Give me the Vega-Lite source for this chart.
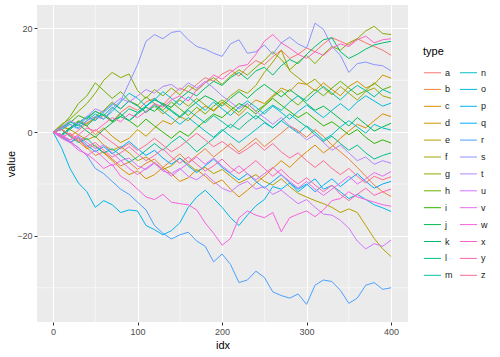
{
"$schema":"https://vega.github.io/schema/vega-lite/v6.json",
"width":371,"height":317,
"autosize":{"type":"none"},
"padding":{"left":37,"top":5,"right":92,"bottom":35},
"background":"white",
"config":{
"view":{"fill":"#EBEBEB","stroke":null},
"font":"Liberation Sans",
"axis":{"gridColor":"#FFFFFF","gridWidth":1.1,"domain":false,"tickColor":"#333333","tickSize":3,"tickWidth":1,"labelColor":"#4D4D4D","labelFontSize":9,"labelPadding":2,"titleFontSize":11,"titleFontWeight":"normal","titleColor":"#000000","titlePadding":3},
"axisY":{"titlePadding":0},
"legend":{"orient":"none","legendX":386,"legendY":41,"columns":2,"symbolType":"stroke","symbolSize":290,"symbolStrokeWidth":1,"labelFontSize":9,"labelColor":"#1A1A1A","labelOffset":3,"titleFontSize":11,"titleFontWeight":"normal","titleColor":"#000000","titlePadding":6,"rowPadding":1.9,"columnPadding":4,"padding":0}
},
"layer":[
{"data":{"values":[{"gx":50},{"gx":150},{"gx":250},{"gx":350}]},
"mark":{"type":"rule","color":"#FFFFFF","strokeWidth":0.55},
"encoding":{"x":{"field":"gx","type":"quantitative","title":"idx","scale":{"domain":[-19,420],"nice":false,"zero":false},"axis":{"values":[0,100,200,300,400]}}}},
{"data":{"values":[{"gy":-30},{"gy":-10},{"gy":10}]},
"mark":{"type":"rule","color":"#FFFFFF","strokeWidth":0.55},
"encoding":{"y":{"field":"gy","type":"quantitative","title":"value","scale":{"domain":[-36.6,24.5],"nice":false,"zero":false},"axis":{"values":[-20,0,20]}}}},
{"data":{"values":[
{"idx":0,"type":"a","value":0},{"idx":10,"type":"a","value":0.5},{"idx":20,"type":"a","value":-0.8},{"idx":30,"type":"a","value":0.3},{"idx":40,"type":"a","value":1.8},{"idx":50,"type":"a","value":2.5},{"idx":60,"type":"a","value":3.2},{"idx":70,"type":"a","value":2.0},{"idx":80,"type":"a","value":3.8},{"idx":90,"type":"a","value":5.0},{"idx":100,"type":"a","value":4.2},{"idx":110,"type":"a","value":5.8},{"idx":120,"type":"a","value":6.5},{"idx":130,"type":"a","value":5.2},{"idx":140,"type":"a","value":7.0},{"idx":150,"type":"a","value":8.5},{"idx":160,"type":"a","value":7.8},{"idx":170,"type":"a","value":9.2},{"idx":180,"type":"a","value":10.5},{"idx":190,"type":"a","value":9.8},{"idx":200,"type":"a","value":11.2},{"idx":210,"type":"a","value":12.0},{"idx":220,"type":"a","value":10.8},{"idx":230,"type":"a","value":12.5},{"idx":240,"type":"a","value":13.8},{"idx":250,"type":"a","value":13.0},{"idx":260,"type":"a","value":14.5},{"idx":270,"type":"a","value":15.8},{"idx":280,"type":"a","value":14.2},{"idx":290,"type":"a","value":15.0},{"idx":300,"type":"a","value":16.2},{"idx":310,"type":"a","value":15.5},{"idx":320,"type":"a","value":17.0},{"idx":330,"type":"a","value":18.2},{"idx":340,"type":"a","value":17.5},{"idx":350,"type":"a","value":16.8},{"idx":360,"type":"a","value":18.0},{"idx":370,"type":"a","value":17.2},{"idx":380,"type":"a","value":16.5},{"idx":390,"type":"a","value":15.8},{"idx":400,"type":"a","value":14.8},
{"idx":0,"type":"b","value":0},{"idx":10,"type":"b","value":-0.8},{"idx":20,"type":"b","value":-2.0},{"idx":30,"type":"b","value":-1.2},{"idx":40,"type":"b","value":-3.0},{"idx":50,"type":"b","value":-4.5},{"idx":60,"type":"b","value":-3.8},{"idx":70,"type":"b","value":-5.2},{"idx":80,"type":"b","value":-6.5},{"idx":90,"type":"b","value":-5.8},{"idx":100,"type":"b","value":-7.2},{"idx":110,"type":"b","value":-6.0},{"idx":120,"type":"b","value":-5.2},{"idx":130,"type":"b","value":-6.8},{"idx":140,"type":"b","value":-5.5},{"idx":150,"type":"b","value":-4.2},{"idx":160,"type":"b","value":-5.8},{"idx":170,"type":"b","value":-4.5},{"idx":180,"type":"b","value":-3.2},{"idx":190,"type":"b","value":-4.8},{"idx":200,"type":"b","value":-3.5},{"idx":210,"type":"b","value":-2.2},{"idx":220,"type":"b","value":-3.8},{"idx":230,"type":"b","value":-2.5},{"idx":240,"type":"b","value":-1.2},{"idx":250,"type":"b","value":-2.8},{"idx":260,"type":"b","value":-1.5},{"idx":270,"type":"b","value":-0.2},{"idx":280,"type":"b","value":1.2},{"idx":290,"type":"b","value":0.3},{"idx":300,"type":"b","value":-1.0},{"idx":310,"type":"b","value":0.5},{"idx":320,"type":"b","value":-0.8},{"idx":330,"type":"b","value":-2.5},{"idx":340,"type":"b","value":-3.8},{"idx":350,"type":"b","value":-5.2},{"idx":360,"type":"b","value":-6.8},{"idx":370,"type":"b","value":-8.5},{"idx":380,"type":"b","value":-10.2},{"idx":390,"type":"b","value":-11.5},{"idx":400,"type":"b","value":-12.4},
{"idx":0,"type":"c","value":0},{"idx":10,"type":"c","value":0.6},{"idx":20,"type":"c","value":-0.5},{"idx":30,"type":"c","value":-1.8},{"idx":40,"type":"c","value":-3.2},{"idx":50,"type":"c","value":-2.5},{"idx":60,"type":"c","value":-4.0},{"idx":70,"type":"c","value":-5.5},{"idx":80,"type":"c","value":-7.0},{"idx":90,"type":"c","value":-8.2},{"idx":100,"type":"c","value":-7.5},{"idx":110,"type":"c","value":-9.0},{"idx":120,"type":"c","value":-8.2},{"idx":130,"type":"c","value":-6.8},{"idx":140,"type":"c","value":-8.0},{"idx":150,"type":"c","value":-9.5},{"idx":160,"type":"c","value":-8.8},{"idx":170,"type":"c","value":-7.2},{"idx":180,"type":"c","value":-8.5},{"idx":190,"type":"c","value":-10.0},{"idx":200,"type":"c","value":-9.2},{"idx":210,"type":"c","value":-11.0},{"idx":220,"type":"c","value":-12.5},{"idx":230,"type":"c","value":-11.2},{"idx":240,"type":"c","value":-9.8},{"idx":250,"type":"c","value":-8.5},{"idx":260,"type":"c","value":-7.0},{"idx":270,"type":"c","value":-5.5},{"idx":280,"type":"c","value":-6.8},{"idx":290,"type":"c","value":-5.2},{"idx":300,"type":"c","value":-3.8},{"idx":310,"type":"c","value":-2.5},{"idx":320,"type":"c","value":-4.0},{"idx":330,"type":"c","value":-2.8},{"idx":340,"type":"c","value":-1.2},{"idx":350,"type":"c","value":0.2},{"idx":360,"type":"c","value":1.5},{"idx":370,"type":"c","value":0.8},{"idx":380,"type":"c","value":2.2},{"idx":390,"type":"c","value":3.5},{"idx":400,"type":"c","value":3.0},
{"idx":0,"type":"d","value":0},{"idx":10,"type":"d","value":1.2},{"idx":20,"type":"d","value":0.5},{"idx":30,"type":"d","value":2.0},{"idx":40,"type":"d","value":1.2},{"idx":50,"type":"d","value":-0.5},{"idx":60,"type":"d","value":0.8},{"idx":70,"type":"d","value":-0.8},{"idx":80,"type":"d","value":-2.0},{"idx":90,"type":"d","value":-1.2},{"idx":100,"type":"d","value":0.5},{"idx":110,"type":"d","value":-0.8},{"idx":120,"type":"d","value":0.8},{"idx":130,"type":"d","value":2.2},{"idx":140,"type":"d","value":1.5},{"idx":150,"type":"d","value":3.0},{"idx":160,"type":"d","value":2.2},{"idx":170,"type":"d","value":3.8},{"idx":180,"type":"d","value":5.0},{"idx":190,"type":"d","value":4.2},{"idx":200,"type":"d","value":5.8},{"idx":210,"type":"d","value":4.5},{"idx":220,"type":"d","value":3.2},{"idx":230,"type":"d","value":4.8},{"idx":240,"type":"d","value":6.2},{"idx":250,"type":"d","value":5.5},{"idx":260,"type":"d","value":7.0},{"idx":270,"type":"d","value":8.5},{"idx":280,"type":"d","value":7.8},{"idx":290,"type":"d","value":9.5},{"idx":300,"type":"d","value":9.2},{"idx":310,"type":"d","value":8.0},{"idx":320,"type":"d","value":9.5},{"idx":330,"type":"d","value":8.2},{"idx":340,"type":"d","value":7.0},{"idx":350,"type":"d","value":8.8},{"idx":360,"type":"d","value":9.8},{"idx":370,"type":"d","value":8.5},{"idx":380,"type":"d","value":9.2},{"idx":390,"type":"d","value":11.0},{"idx":400,"type":"d","value":10.4},
{"idx":0,"type":"e","value":0},{"idx":10,"type":"e","value":1.0},{"idx":20,"type":"e","value":0.5},{"idx":30,"type":"e","value":-0.5},{"idx":40,"type":"e","value":-1.5},{"idx":50,"type":"e","value":-0.8},{"idx":60,"type":"e","value":-2.5},{"idx":70,"type":"e","value":-3.5},{"idx":80,"type":"e","value":-2.8},{"idx":90,"type":"e","value":-4.0},{"idx":100,"type":"e","value":-5.5},{"idx":110,"type":"e","value":-4.8},{"idx":120,"type":"e","value":-6.0},{"idx":130,"type":"e","value":-7.2},{"idx":140,"type":"e","value":-6.5},{"idx":150,"type":"e","value":-5.0},{"idx":160,"type":"e","value":-6.2},{"idx":170,"type":"e","value":-7.5},{"idx":180,"type":"e","value":-6.8},{"idx":190,"type":"e","value":-8.0},{"idx":200,"type":"e","value":-7.2},{"idx":210,"type":"e","value":-8.5},{"idx":220,"type":"e","value":-9.8},{"idx":230,"type":"e","value":-9.0},{"idx":240,"type":"e","value":-8.2},{"idx":250,"type":"e","value":-9.5},{"idx":260,"type":"e","value":-10.2},{"idx":270,"type":"e","value":-9.0},{"idx":280,"type":"e","value":-10.5},{"idx":290,"type":"e","value":-11.8},{"idx":300,"type":"e","value":-12.5},{"idx":310,"type":"e","value":-13.2},{"idx":320,"type":"e","value":-13.8},{"idx":330,"type":"e","value":-14.5},{"idx":340,"type":"e","value":-15.5},{"idx":350,"type":"e","value":-14.8},{"idx":360,"type":"e","value":-15.5},{"idx":370,"type":"e","value":-18.0},{"idx":380,"type":"e","value":-20.5},{"idx":390,"type":"e","value":-22.5},{"idx":400,"type":"e","value":-24.0},
{"idx":0,"type":"f","value":0},{"idx":10,"type":"f","value":-0.5},{"idx":20,"type":"f","value":0.8},{"idx":30,"type":"f","value":2.2},{"idx":40,"type":"f","value":1.5},{"idx":50,"type":"f","value":3.0},{"idx":60,"type":"f","value":4.2},{"idx":70,"type":"f","value":5.8},{"idx":80,"type":"f","value":4.5},{"idx":90,"type":"f","value":6.0},{"idx":100,"type":"f","value":5.2},{"idx":110,"type":"f","value":3.8},{"idx":120,"type":"f","value":5.0},{"idx":130,"type":"f","value":3.5},{"idx":140,"type":"f","value":4.8},{"idx":150,"type":"f","value":6.2},{"idx":160,"type":"f","value":5.0},{"idx":170,"type":"f","value":6.5},{"idx":180,"type":"f","value":5.2},{"idx":190,"type":"f","value":4.0},{"idx":200,"type":"f","value":5.5},{"idx":210,"type":"f","value":7.0},{"idx":220,"type":"f","value":8.2},{"idx":230,"type":"f","value":7.5},{"idx":240,"type":"f","value":9.0},{"idx":250,"type":"f","value":11.5},{"idx":260,"type":"f","value":13.5},{"idx":270,"type":"f","value":15.8},{"idx":280,"type":"f","value":11.8},{"idx":290,"type":"f","value":10.5},{"idx":300,"type":"f","value":9.2},{"idx":310,"type":"f","value":10.2},{"idx":320,"type":"f","value":8.5},{"idx":330,"type":"f","value":7.2},{"idx":340,"type":"f","value":8.8},{"idx":350,"type":"f","value":7.5},{"idx":360,"type":"f","value":6.2},{"idx":370,"type":"f","value":7.8},{"idx":380,"type":"f","value":8.5},{"idx":390,"type":"f","value":7.0},{"idx":400,"type":"f","value":6.5},
{"idx":0,"type":"g","value":0},{"idx":10,"type":"g","value":1.5},{"idx":20,"type":"g","value":2.5},{"idx":30,"type":"g","value":4.0},{"idx":40,"type":"g","value":5.5},{"idx":50,"type":"g","value":7.5},{"idx":60,"type":"g","value":10.0},{"idx":70,"type":"g","value":11.5},{"idx":80,"type":"g","value":10.5},{"idx":90,"type":"g","value":11.2},{"idx":100,"type":"g","value":8.0},{"idx":110,"type":"g","value":6.5},{"idx":120,"type":"g","value":8.2},{"idx":130,"type":"g","value":7.0},{"idx":140,"type":"g","value":8.5},{"idx":150,"type":"g","value":7.2},{"idx":160,"type":"g","value":9.0},{"idx":170,"type":"g","value":8.0},{"idx":180,"type":"g","value":9.5},{"idx":190,"type":"g","value":10.5},{"idx":200,"type":"g","value":9.2},{"idx":210,"type":"g","value":10.8},{"idx":220,"type":"g","value":12.0},{"idx":230,"type":"g","value":11.0},{"idx":240,"type":"g","value":12.5},{"idx":250,"type":"g","value":13.8},{"idx":260,"type":"g","value":15.5},{"idx":270,"type":"g","value":14.0},{"idx":280,"type":"g","value":12.0},{"idx":290,"type":"g","value":13.5},{"idx":300,"type":"g","value":14.8},{"idx":310,"type":"g","value":13.2},{"idx":320,"type":"g","value":15.0},{"idx":330,"type":"g","value":16.5},{"idx":340,"type":"g","value":15.8},{"idx":350,"type":"g","value":17.2},{"idx":360,"type":"g","value":18.0},{"idx":370,"type":"g","value":19.5},{"idx":380,"type":"g","value":20.4},{"idx":390,"type":"g","value":19.0},{"idx":400,"type":"g","value":18.8},
{"idx":0,"type":"h","value":0},{"idx":10,"type":"h","value":1.2},{"idx":20,"type":"h","value":3.0},{"idx":30,"type":"h","value":5.5},{"idx":40,"type":"h","value":7.0},{"idx":50,"type":"h","value":9.5},{"idx":60,"type":"h","value":8.0},{"idx":70,"type":"h","value":6.5},{"idx":80,"type":"h","value":7.8},{"idx":90,"type":"h","value":6.0},{"idx":100,"type":"h","value":5.2},{"idx":110,"type":"h","value":6.8},{"idx":120,"type":"h","value":5.5},{"idx":130,"type":"h","value":4.2},{"idx":140,"type":"h","value":5.8},{"idx":150,"type":"h","value":4.5},{"idx":160,"type":"h","value":3.2},{"idx":170,"type":"h","value":4.8},{"idx":180,"type":"h","value":3.5},{"idx":190,"type":"h","value":5.0},{"idx":200,"type":"h","value":6.2},{"idx":210,"type":"h","value":5.0},{"idx":220,"type":"h","value":3.8},{"idx":230,"type":"h","value":5.5},{"idx":240,"type":"h","value":4.0},{"idx":250,"type":"h","value":5.2},{"idx":260,"type":"h","value":6.8},{"idx":270,"type":"h","value":8.0},{"idx":280,"type":"h","value":6.5},{"idx":290,"type":"h","value":5.2},{"idx":300,"type":"h","value":6.8},{"idx":310,"type":"h","value":8.2},{"idx":320,"type":"h","value":7.0},{"idx":330,"type":"h","value":8.5},{"idx":340,"type":"h","value":9.8},{"idx":350,"type":"h","value":8.5},{"idx":360,"type":"h","value":7.2},{"idx":370,"type":"h","value":8.0},{"idx":380,"type":"h","value":9.5},{"idx":390,"type":"h","value":8.2},{"idx":400,"type":"h","value":8.8},
{"idx":0,"type":"i","value":0},{"idx":10,"type":"i","value":0.8},{"idx":20,"type":"i","value":1.8},{"idx":30,"type":"i","value":3.2},{"idx":40,"type":"i","value":2.5},{"idx":50,"type":"i","value":4.0},{"idx":60,"type":"i","value":3.2},{"idx":70,"type":"i","value":2.0},{"idx":80,"type":"i","value":3.5},{"idx":90,"type":"i","value":2.2},{"idx":100,"type":"i","value":1.0},{"idx":110,"type":"i","value":2.5},{"idx":120,"type":"i","value":1.2},{"idx":130,"type":"i","value":0.0},{"idx":140,"type":"i","value":-1.2},{"idx":150,"type":"i","value":0.2},{"idx":160,"type":"i","value":-0.8},{"idx":170,"type":"i","value":0.8},{"idx":180,"type":"i","value":2.2},{"idx":190,"type":"i","value":3.5},{"idx":200,"type":"i","value":2.8},{"idx":210,"type":"i","value":4.2},{"idx":220,"type":"i","value":5.5},{"idx":230,"type":"i","value":4.8},{"idx":240,"type":"i","value":3.5},{"idx":250,"type":"i","value":5.0},{"idx":260,"type":"i","value":6.5},{"idx":270,"type":"i","value":5.2},{"idx":280,"type":"i","value":4.0},{"idx":290,"type":"i","value":2.8},{"idx":300,"type":"i","value":3.8},{"idx":310,"type":"i","value":2.5},{"idx":320,"type":"i","value":1.2},{"idx":330,"type":"i","value":2.0},{"idx":340,"type":"i","value":0.8},{"idx":350,"type":"i","value":-0.5},{"idx":360,"type":"i","value":0.5},{"idx":370,"type":"i","value":-1.0},{"idx":380,"type":"i","value":-2.2},{"idx":390,"type":"i","value":-1.5},{"idx":400,"type":"i","value":-2.1},
{"idx":0,"type":"j","value":0},{"idx":10,"type":"j","value":-0.5},{"idx":20,"type":"j","value":0.8},{"idx":30,"type":"j","value":1.5},{"idx":40,"type":"j","value":0.2},{"idx":50,"type":"j","value":-1.0},{"idx":60,"type":"j","value":0.5},{"idx":70,"type":"j","value":1.8},{"idx":80,"type":"j","value":3.0},{"idx":90,"type":"j","value":2.2},{"idx":100,"type":"j","value":3.5},{"idx":110,"type":"j","value":4.8},{"idx":120,"type":"j","value":4.0},{"idx":130,"type":"j","value":5.5},{"idx":140,"type":"j","value":4.2},{"idx":150,"type":"j","value":3.0},{"idx":160,"type":"j","value":4.5},{"idx":170,"type":"j","value":5.8},{"idx":180,"type":"j","value":7.0},{"idx":190,"type":"j","value":6.2},{"idx":200,"type":"j","value":5.0},{"idx":210,"type":"j","value":6.5},{"idx":220,"type":"j","value":7.8},{"idx":230,"type":"j","value":6.5},{"idx":240,"type":"j","value":8.0},{"idx":250,"type":"j","value":9.2},{"idx":260,"type":"j","value":8.0},{"idx":270,"type":"j","value":6.8},{"idx":280,"type":"j","value":8.2},{"idx":290,"type":"j","value":7.0},{"idx":300,"type":"j","value":5.5},{"idx":310,"type":"j","value":4.2},{"idx":320,"type":"j","value":5.0},{"idx":330,"type":"j","value":3.8},{"idx":340,"type":"j","value":2.5},{"idx":350,"type":"j","value":1.2},{"idx":360,"type":"j","value":2.8},{"idx":370,"type":"j","value":1.5},{"idx":380,"type":"j","value":0.2},{"idx":390,"type":"j","value":1.0},{"idx":400,"type":"j","value":1.7},
{"idx":0,"type":"k","value":0},{"idx":10,"type":"k","value":-0.5},{"idx":20,"type":"k","value":0.8},{"idx":30,"type":"k","value":2.0},{"idx":40,"type":"k","value":1.2},{"idx":50,"type":"k","value":2.8},{"idx":60,"type":"k","value":3.5},{"idx":70,"type":"k","value":2.2},{"idx":80,"type":"k","value":3.0},{"idx":90,"type":"k","value":4.5},{"idx":100,"type":"k","value":3.8},{"idx":110,"type":"k","value":5.0},{"idx":120,"type":"k","value":6.2},{"idx":130,"type":"k","value":5.5},{"idx":140,"type":"k","value":4.8},{"idx":150,"type":"k","value":6.5},{"idx":160,"type":"k","value":7.8},{"idx":170,"type":"k","value":7.0},{"idx":180,"type":"k","value":8.5},{"idx":190,"type":"k","value":9.8},{"idx":200,"type":"k","value":9.0},{"idx":210,"type":"k","value":10.5},{"idx":220,"type":"k","value":11.5},{"idx":230,"type":"k","value":10.2},{"idx":240,"type":"k","value":11.8},{"idx":250,"type":"k","value":12.5},{"idx":260,"type":"k","value":11.0},{"idx":270,"type":"k","value":12.8},{"idx":280,"type":"k","value":14.0},{"idx":290,"type":"k","value":13.2},{"idx":300,"type":"k","value":15.0},{"idx":310,"type":"k","value":16.5},{"idx":320,"type":"k","value":17.8},{"idx":330,"type":"k","value":18.2},{"idx":340,"type":"k","value":15.5},{"idx":350,"type":"k","value":14.2},{"idx":360,"type":"k","value":15.0},{"idx":370,"type":"k","value":16.0},{"idx":380,"type":"k","value":16.8},{"idx":390,"type":"k","value":17.2},{"idx":400,"type":"k","value":17.5},
{"idx":0,"type":"l","value":0},{"idx":10,"type":"l","value":0.5},{"idx":20,"type":"l","value":-0.8},{"idx":30,"type":"l","value":-2.0},{"idx":40,"type":"l","value":-1.2},{"idx":50,"type":"l","value":-2.8},{"idx":60,"type":"l","value":-4.0},{"idx":70,"type":"l","value":-3.2},{"idx":80,"type":"l","value":-4.5},{"idx":90,"type":"l","value":-5.8},{"idx":100,"type":"l","value":-4.8},{"idx":110,"type":"l","value":-3.5},{"idx":120,"type":"l","value":-2.2},{"idx":130,"type":"l","value":-3.5},{"idx":140,"type":"l","value":-2.0},{"idx":150,"type":"l","value":-0.8},{"idx":160,"type":"l","value":-2.2},{"idx":170,"type":"l","value":-3.8},{"idx":180,"type":"l","value":-2.5},{"idx":190,"type":"l","value":-1.2},{"idx":200,"type":"l","value":0.2},{"idx":210,"type":"l","value":1.5},{"idx":220,"type":"l","value":0.5},{"idx":230,"type":"l","value":2.0},{"idx":240,"type":"l","value":3.2},{"idx":250,"type":"l","value":2.0},{"idx":260,"type":"l","value":0.8},{"idx":270,"type":"l","value":2.2},{"idx":280,"type":"l","value":3.5},{"idx":290,"type":"l","value":2.2},{"idx":300,"type":"l","value":1.0},{"idx":310,"type":"l","value":-0.5},{"idx":320,"type":"l","value":-1.8},{"idx":330,"type":"l","value":-0.8},{"idx":340,"type":"l","value":-2.2},{"idx":350,"type":"l","value":-3.5},{"idx":360,"type":"l","value":-2.5},{"idx":370,"type":"l","value":-4.0},{"idx":380,"type":"l","value":-5.2},{"idx":390,"type":"l","value":-4.5},{"idx":400,"type":"l","value":-4.0},
{"idx":0,"type":"m","value":0},{"idx":10,"type":"m","value":0.8},{"idx":20,"type":"m","value":2.0},{"idx":30,"type":"m","value":1.2},{"idx":40,"type":"m","value":2.8},{"idx":50,"type":"m","value":4.0},{"idx":60,"type":"m","value":3.2},{"idx":70,"type":"m","value":4.8},{"idx":80,"type":"m","value":3.5},{"idx":90,"type":"m","value":2.2},{"idx":100,"type":"m","value":3.8},{"idx":110,"type":"m","value":5.0},{"idx":120,"type":"m","value":6.5},{"idx":130,"type":"m","value":5.2},{"idx":140,"type":"m","value":4.0},{"idx":150,"type":"m","value":2.8},{"idx":160,"type":"m","value":4.2},{"idx":170,"type":"m","value":3.0},{"idx":180,"type":"m","value":1.8},{"idx":190,"type":"m","value":3.2},{"idx":200,"type":"m","value":2.0},{"idx":210,"type":"m","value":0.8},{"idx":220,"type":"m","value":2.5},{"idx":230,"type":"m","value":3.8},{"idx":240,"type":"m","value":2.5},{"idx":250,"type":"m","value":4.0},{"idx":260,"type":"m","value":5.2},{"idx":270,"type":"m","value":4.2},{"idx":280,"type":"m","value":5.8},{"idx":290,"type":"m","value":7.0},{"idx":300,"type":"m","value":6.0},{"idx":310,"type":"m","value":7.5},{"idx":320,"type":"m","value":8.8},{"idx":330,"type":"m","value":7.5},{"idx":340,"type":"m","value":6.2},{"idx":350,"type":"m","value":7.8},{"idx":360,"type":"m","value":9.0},{"idx":370,"type":"m","value":8.0},{"idx":380,"type":"m","value":6.8},{"idx":390,"type":"m","value":8.2},{"idx":400,"type":"m","value":7.5},
{"idx":0,"type":"n","value":0},{"idx":10,"type":"n","value":-0.8},{"idx":20,"type":"n","value":0.5},{"idx":30,"type":"n","value":1.8},{"idx":40,"type":"n","value":3.0},{"idx":50,"type":"n","value":2.2},{"idx":60,"type":"n","value":4.0},{"idx":70,"type":"n","value":5.5},{"idx":80,"type":"n","value":4.5},{"idx":90,"type":"n","value":6.0},{"idx":100,"type":"n","value":5.0},{"idx":110,"type":"n","value":3.8},{"idx":120,"type":"n","value":5.2},{"idx":130,"type":"n","value":4.0},{"idx":140,"type":"n","value":2.8},{"idx":150,"type":"n","value":1.5},{"idx":160,"type":"n","value":2.8},{"idx":170,"type":"n","value":1.5},{"idx":180,"type":"n","value":0.2},{"idx":190,"type":"n","value":-1.0},{"idx":200,"type":"n","value":0.5},{"idx":210,"type":"n","value":-0.8},{"idx":220,"type":"n","value":-2.0},{"idx":230,"type":"n","value":-0.8},{"idx":240,"type":"n","value":0.5},{"idx":250,"type":"n","value":1.8},{"idx":260,"type":"n","value":0.8},{"idx":270,"type":"n","value":2.2},{"idx":280,"type":"n","value":1.0},{"idx":290,"type":"n","value":-0.2},{"idx":300,"type":"n","value":1.2},{"idx":310,"type":"n","value":0.0},{"idx":320,"type":"n","value":-1.5},{"idx":330,"type":"n","value":-0.5},{"idx":340,"type":"n","value":1.0},{"idx":350,"type":"n","value":2.2},{"idx":360,"type":"n","value":1.0},{"idx":370,"type":"n","value":-0.2},{"idx":380,"type":"n","value":1.5},{"idx":390,"type":"n","value":0.8},{"idx":400,"type":"n","value":0.4},
{"idx":0,"type":"o","value":0},{"idx":10,"type":"o","value":0.5},{"idx":20,"type":"o","value":1.5},{"idx":30,"type":"o","value":0.8},{"idx":40,"type":"o","value":2.2},{"idx":50,"type":"o","value":3.5},{"idx":60,"type":"o","value":2.5},{"idx":70,"type":"o","value":4.0},{"idx":80,"type":"o","value":5.8},{"idx":90,"type":"o","value":7.5},{"idx":100,"type":"o","value":6.5},{"idx":110,"type":"o","value":5.0},{"idx":120,"type":"o","value":6.2},{"idx":130,"type":"o","value":7.8},{"idx":140,"type":"o","value":6.5},{"idx":150,"type":"o","value":5.2},{"idx":160,"type":"o","value":6.8},{"idx":170,"type":"o","value":5.5},{"idx":180,"type":"o","value":4.2},{"idx":190,"type":"o","value":5.8},{"idx":200,"type":"o","value":4.5},{"idx":210,"type":"o","value":3.2},{"idx":220,"type":"o","value":4.8},{"idx":230,"type":"o","value":6.0},{"idx":240,"type":"o","value":4.8},{"idx":250,"type":"o","value":3.5},{"idx":260,"type":"o","value":5.0},{"idx":270,"type":"o","value":3.8},{"idx":280,"type":"o","value":2.5},{"idx":290,"type":"o","value":4.0},{"idx":300,"type":"o","value":5.2},{"idx":310,"type":"o","value":4.0},{"idx":320,"type":"o","value":2.8},{"idx":330,"type":"o","value":4.2},{"idx":340,"type":"o","value":5.5},{"idx":350,"type":"o","value":4.2},{"idx":360,"type":"o","value":5.8},{"idx":370,"type":"o","value":7.0},{"idx":380,"type":"o","value":6.0},{"idx":390,"type":"o","value":5.0},{"idx":400,"type":"o","value":5.6},
{"idx":0,"type":"p","value":0},{"idx":10,"type":"p","value":-3.0},{"idx":20,"type":"p","value":-7.0},{"idx":30,"type":"p","value":-9.8},{"idx":40,"type":"p","value":-11.5},{"idx":50,"type":"p","value":-14.5},{"idx":60,"type":"p","value":-13.2},{"idx":70,"type":"p","value":-14.0},{"idx":80,"type":"p","value":-15.5},{"idx":90,"type":"p","value":-15.0},{"idx":100,"type":"p","value":-15.2},{"idx":110,"type":"p","value":-18.0},{"idx":120,"type":"p","value":-18.8},{"idx":130,"type":"p","value":-19.8},{"idx":140,"type":"p","value":-19.0},{"idx":150,"type":"p","value":-17.5},{"idx":160,"type":"p","value":-14.5},{"idx":170,"type":"p","value":-12.5},{"idx":180,"type":"p","value":-11.2},{"idx":190,"type":"p","value":-12.8},{"idx":200,"type":"p","value":-14.5},{"idx":210,"type":"p","value":-16.5},{"idx":220,"type":"p","value":-18.0},{"idx":230,"type":"p","value":-16.0},{"idx":240,"type":"p","value":-14.2},{"idx":250,"type":"p","value":-13.0},{"idx":260,"type":"p","value":-10.5},{"idx":270,"type":"p","value":-11.0},{"idx":280,"type":"p","value":-9.8},{"idx":290,"type":"p","value":-11.5},{"idx":300,"type":"p","value":-10.2},{"idx":310,"type":"p","value":-9.0},{"idx":320,"type":"p","value":-11.0},{"idx":330,"type":"p","value":-10.3},{"idx":340,"type":"p","value":-11.5},{"idx":350,"type":"p","value":-12.8},{"idx":360,"type":"p","value":-12.0},{"idx":370,"type":"p","value":-13.0},{"idx":380,"type":"p","value":-14.0},{"idx":390,"type":"p","value":-14.6},{"idx":400,"type":"p","value":-15.3},
{"idx":0,"type":"q","value":0},{"idx":10,"type":"q","value":-0.8},{"idx":20,"type":"q","value":-2.0},{"idx":30,"type":"q","value":-1.0},{"idx":40,"type":"q","value":-2.5},{"idx":50,"type":"q","value":-3.8},{"idx":60,"type":"q","value":-2.8},{"idx":70,"type":"q","value":-4.2},{"idx":80,"type":"q","value":-3.0},{"idx":90,"type":"q","value":-1.8},{"idx":100,"type":"q","value":-3.2},{"idx":110,"type":"q","value":-4.5},{"idx":120,"type":"q","value":-3.5},{"idx":130,"type":"q","value":-5.0},{"idx":140,"type":"q","value":-6.2},{"idx":150,"type":"q","value":-5.0},{"idx":160,"type":"q","value":-6.5},{"idx":170,"type":"q","value":-7.8},{"idx":180,"type":"q","value":-6.5},{"idx":190,"type":"q","value":-5.2},{"idx":200,"type":"q","value":-6.8},{"idx":210,"type":"q","value":-8.0},{"idx":220,"type":"q","value":-9.2},{"idx":230,"type":"q","value":-8.0},{"idx":240,"type":"q","value":-9.5},{"idx":250,"type":"q","value":-10.8},{"idx":260,"type":"q","value":-9.5},{"idx":270,"type":"q","value":-8.2},{"idx":280,"type":"q","value":-9.8},{"idx":290,"type":"q","value":-11.0},{"idx":300,"type":"q","value":-10.0},{"idx":310,"type":"q","value":-11.5},{"idx":320,"type":"q","value":-10.2},{"idx":330,"type":"q","value":-9.0},{"idx":340,"type":"q","value":-10.5},{"idx":350,"type":"q","value":-9.2},{"idx":360,"type":"q","value":-8.0},{"idx":370,"type":"q","value":-9.5},{"idx":380,"type":"q","value":-10.8},{"idx":390,"type":"q","value":-10.0},{"idx":400,"type":"q","value":-9.5},
{"idx":0,"type":"r","value":0},{"idx":10,"type":"r","value":-1.0},{"idx":20,"type":"r","value":-1.8},{"idx":30,"type":"r","value":-3.0},{"idx":40,"type":"r","value":-4.5},{"idx":50,"type":"r","value":-7.0},{"idx":60,"type":"r","value":-8.0},{"idx":70,"type":"r","value":-9.5},{"idx":80,"type":"r","value":-11.0},{"idx":90,"type":"r","value":-12.0},{"idx":100,"type":"r","value":-13.5},{"idx":110,"type":"r","value":-15.0},{"idx":120,"type":"r","value":-18.0},{"idx":130,"type":"r","value":-19.5},{"idx":140,"type":"r","value":-20.6},{"idx":150,"type":"r","value":-19.8},{"idx":160,"type":"r","value":-19.3},{"idx":170,"type":"r","value":-21.0},{"idx":180,"type":"r","value":-22.0},{"idx":190,"type":"r","value":-25.0},{"idx":200,"type":"r","value":-23.5},{"idx":210,"type":"r","value":-25.5},{"idx":220,"type":"r","value":-29.0},{"idx":230,"type":"r","value":-28.5},{"idx":240,"type":"r","value":-26.8},{"idx":250,"type":"r","value":-28.0},{"idx":260,"type":"r","value":-30.8},{"idx":270,"type":"r","value":-31.5},{"idx":280,"type":"r","value":-32.0},{"idx":290,"type":"r","value":-31.2},{"idx":300,"type":"r","value":-33.2},{"idx":310,"type":"r","value":-29.5},{"idx":320,"type":"r","value":-28.5},{"idx":330,"type":"r","value":-28.8},{"idx":340,"type":"r","value":-30.5},{"idx":350,"type":"r","value":-33.0},{"idx":360,"type":"r","value":-32.0},{"idx":370,"type":"r","value":-29.5},{"idx":380,"type":"r","value":-29.0},{"idx":390,"type":"r","value":-30.3},{"idx":400,"type":"r","value":-30.0},
{"idx":0,"type":"s","value":0},{"idx":10,"type":"s","value":0.8},{"idx":20,"type":"s","value":1.5},{"idx":30,"type":"s","value":0.6},{"idx":40,"type":"s","value":2.2},{"idx":50,"type":"s","value":3.0},{"idx":60,"type":"s","value":2.5},{"idx":70,"type":"s","value":4.5},{"idx":80,"type":"s","value":6.0},{"idx":90,"type":"s","value":9.5},{"idx":100,"type":"s","value":13.0},{"idx":110,"type":"s","value":17.5},{"idx":120,"type":"s","value":18.8},{"idx":130,"type":"s","value":18.0},{"idx":140,"type":"s","value":19.2},{"idx":150,"type":"s","value":19.5},{"idx":160,"type":"s","value":17.8},{"idx":170,"type":"s","value":16.5},{"idx":180,"type":"s","value":16.0},{"idx":190,"type":"s","value":15.2},{"idx":200,"type":"s","value":14.6},{"idx":210,"type":"s","value":17.0},{"idx":220,"type":"s","value":17.8},{"idx":230,"type":"s","value":15.2},{"idx":240,"type":"s","value":15.5},{"idx":250,"type":"s","value":16.8},{"idx":260,"type":"s","value":15.0},{"idx":270,"type":"s","value":17.2},{"idx":280,"type":"s","value":18.3},{"idx":290,"type":"s","value":17.0},{"idx":300,"type":"s","value":16.2},{"idx":310,"type":"s","value":21.0},{"idx":320,"type":"s","value":19.8},{"idx":330,"type":"s","value":16.5},{"idx":340,"type":"s","value":14.8},{"idx":350,"type":"s","value":11.5},{"idx":360,"type":"s","value":13.2},{"idx":370,"type":"s","value":13.5},{"idx":380,"type":"s","value":13.0},{"idx":390,"type":"s","value":12.8},{"idx":400,"type":"s","value":11.8},
{"idx":0,"type":"t","value":0},{"idx":10,"type":"t","value":1.0},{"idx":20,"type":"t","value":2.2},{"idx":30,"type":"t","value":1.5},{"idx":40,"type":"t","value":3.0},{"idx":50,"type":"t","value":4.5},{"idx":60,"type":"t","value":3.8},{"idx":70,"type":"t","value":5.2},{"idx":80,"type":"t","value":6.5},{"idx":90,"type":"t","value":5.8},{"idx":100,"type":"t","value":7.0},{"idx":110,"type":"t","value":8.2},{"idx":120,"type":"t","value":7.5},{"idx":130,"type":"t","value":8.8},{"idx":140,"type":"t","value":9.2},{"idx":150,"type":"t","value":8.0},{"idx":160,"type":"t","value":9.5},{"idx":170,"type":"t","value":8.5},{"idx":180,"type":"t","value":9.8},{"idx":190,"type":"t","value":8.5},{"idx":200,"type":"t","value":7.0},{"idx":210,"type":"t","value":5.8},{"idx":220,"type":"t","value":4.5},{"idx":230,"type":"t","value":5.5},{"idx":240,"type":"t","value":4.0},{"idx":250,"type":"t","value":2.8},{"idx":260,"type":"t","value":1.5},{"idx":270,"type":"t","value":2.8},{"idx":280,"type":"t","value":1.2},{"idx":290,"type":"t","value":0.0},{"idx":300,"type":"t","value":-1.5},{"idx":310,"type":"t","value":-0.5},{"idx":320,"type":"t","value":-2.0},{"idx":330,"type":"t","value":-3.5},{"idx":340,"type":"t","value":-2.5},{"idx":350,"type":"t","value":-4.0},{"idx":360,"type":"t","value":-5.5},{"idx":370,"type":"t","value":-4.8},{"idx":380,"type":"t","value":-6.2},{"idx":390,"type":"t","value":-5.5},{"idx":400,"type":"t","value":-6.0},
{"idx":0,"type":"u","value":0},{"idx":10,"type":"u","value":-0.5},{"idx":20,"type":"u","value":-1.5},{"idx":30,"type":"u","value":-0.8},{"idx":40,"type":"u","value":-2.0},{"idx":50,"type":"u","value":-3.2},{"idx":60,"type":"u","value":-2.5},{"idx":70,"type":"u","value":-4.0},{"idx":80,"type":"u","value":-5.5},{"idx":90,"type":"u","value":-5.0},{"idx":100,"type":"u","value":-6.5},{"idx":110,"type":"u","value":-7.2},{"idx":120,"type":"u","value":-6.0},{"idx":130,"type":"u","value":-7.5},{"idx":140,"type":"u","value":-8.0},{"idx":150,"type":"u","value":-7.0},{"idx":160,"type":"u","value":-8.5},{"idx":170,"type":"u","value":-9.2},{"idx":180,"type":"u","value":-8.0},{"idx":190,"type":"u","value":-9.5},{"idx":200,"type":"u","value":-10.8},{"idx":210,"type":"u","value":-11.5},{"idx":220,"type":"u","value":-10.2},{"idx":230,"type":"u","value":-9.5},{"idx":240,"type":"u","value":-11.0},{"idx":250,"type":"u","value":-10.5},{"idx":260,"type":"u","value":-12.0},{"idx":270,"type":"u","value":-11.2},{"idx":280,"type":"u","value":-12.5},{"idx":290,"type":"u","value":-13.8},{"idx":300,"type":"u","value":-13.0},{"idx":310,"type":"u","value":-14.5},{"idx":320,"type":"u","value":-15.8},{"idx":330,"type":"u","value":-16.0},{"idx":340,"type":"u","value":-17.0},{"idx":350,"type":"u","value":-18.5},{"idx":360,"type":"u","value":-21.0},{"idx":370,"type":"u","value":-22.5},{"idx":380,"type":"u","value":-21.5},{"idx":390,"type":"u","value":-22.0},{"idx":400,"type":"u","value":-20.8},
{"idx":0,"type":"v","value":0},{"idx":10,"type":"v","value":-0.5},{"idx":20,"type":"v","value":-1.8},{"idx":30,"type":"v","value":-3.0},{"idx":40,"type":"v","value":-4.5},{"idx":50,"type":"v","value":-3.5},{"idx":60,"type":"v","value":-5.0},{"idx":70,"type":"v","value":-6.5},{"idx":80,"type":"v","value":-5.5},{"idx":90,"type":"v","value":-7.0},{"idx":100,"type":"v","value":-8.2},{"idx":110,"type":"v","value":-7.0},{"idx":120,"type":"v","value":-5.8},{"idx":130,"type":"v","value":-7.2},{"idx":140,"type":"v","value":-8.5},{"idx":150,"type":"v","value":-7.2},{"idx":160,"type":"v","value":-6.0},{"idx":170,"type":"v","value":-4.8},{"idx":180,"type":"v","value":-6.2},{"idx":190,"type":"v","value":-5.0},{"idx":200,"type":"v","value":-6.5},{"idx":210,"type":"v","value":-7.8},{"idx":220,"type":"v","value":-6.5},{"idx":230,"type":"v","value":-8.0},{"idx":240,"type":"v","value":-9.2},{"idx":250,"type":"v","value":-8.0},{"idx":260,"type":"v","value":-6.8},{"idx":270,"type":"v","value":-8.2},{"idx":280,"type":"v","value":-9.5},{"idx":290,"type":"v","value":-10.8},{"idx":300,"type":"v","value":-9.5},{"idx":310,"type":"v","value":-11.0},{"idx":320,"type":"v","value":-12.2},{"idx":330,"type":"v","value":-11.0},{"idx":340,"type":"v","value":-9.8},{"idx":350,"type":"v","value":-8.5},{"idx":360,"type":"v","value":-10.0},{"idx":370,"type":"v","value":-9.0},{"idx":380,"type":"v","value":-7.8},{"idx":390,"type":"v","value":-8.5},{"idx":400,"type":"v","value":-7.6},
{"idx":0,"type":"w","value":0},{"idx":10,"type":"w","value":-1.2},{"idx":20,"type":"w","value":-2.0},{"idx":30,"type":"w","value":-3.5},{"idx":40,"type":"w","value":-4.2},{"idx":50,"type":"w","value":-5.5},{"idx":60,"type":"w","value":-7.0},{"idx":70,"type":"w","value":-6.2},{"idx":80,"type":"w","value":-8.5},{"idx":90,"type":"w","value":-9.5},{"idx":100,"type":"w","value":-11.0},{"idx":110,"type":"w","value":-12.5},{"idx":120,"type":"w","value":-13.0},{"idx":130,"type":"w","value":-12.0},{"idx":140,"type":"w","value":-13.5},{"idx":150,"type":"w","value":-13.8},{"idx":160,"type":"w","value":-14.0},{"idx":170,"type":"w","value":-15.0},{"idx":180,"type":"w","value":-17.5},{"idx":190,"type":"w","value":-19.5},{"idx":200,"type":"w","value":-21.8},{"idx":210,"type":"w","value":-20.5},{"idx":220,"type":"w","value":-16.5},{"idx":230,"type":"w","value":-15.2},{"idx":240,"type":"w","value":-16.0},{"idx":250,"type":"w","value":-16.5},{"idx":260,"type":"w","value":-15.5},{"idx":270,"type":"w","value":-19.2},{"idx":280,"type":"w","value":-16.5},{"idx":290,"type":"w","value":-15.8},{"idx":300,"type":"w","value":-15.2},{"idx":310,"type":"w","value":-16.3},{"idx":320,"type":"w","value":-15.0},{"idx":330,"type":"w","value":-13.2},{"idx":340,"type":"w","value":-12.8},{"idx":350,"type":"w","value":-11.5},{"idx":360,"type":"w","value":-12.5},{"idx":370,"type":"w","value":-13.0},{"idx":380,"type":"w","value":-13.5},{"idx":390,"type":"w","value":-14.0},{"idx":400,"type":"w","value":-14.3},
{"idx":0,"type":"x","value":0},{"idx":10,"type":"x","value":-0.8},{"idx":20,"type":"x","value":-1.5},{"idx":30,"type":"x","value":-0.5},{"idx":40,"type":"x","value":0.8},{"idx":50,"type":"x","value":0.2},{"idx":60,"type":"x","value":1.5},{"idx":70,"type":"x","value":2.8},{"idx":80,"type":"x","value":2.0},{"idx":90,"type":"x","value":3.5},{"idx":100,"type":"x","value":2.8},{"idx":110,"type":"x","value":4.0},{"idx":120,"type":"x","value":5.5},{"idx":130,"type":"x","value":4.8},{"idx":140,"type":"x","value":6.2},{"idx":150,"type":"x","value":7.0},{"idx":160,"type":"x","value":6.0},{"idx":170,"type":"x","value":8.2},{"idx":180,"type":"x","value":9.5},{"idx":190,"type":"x","value":11.0},{"idx":200,"type":"x","value":10.2},{"idx":210,"type":"x","value":11.5},{"idx":220,"type":"x","value":12.7},{"idx":230,"type":"x","value":13.0},{"idx":240,"type":"x","value":15.0},{"idx":250,"type":"x","value":17.5},{"idx":260,"type":"x","value":18.8},{"idx":270,"type":"x","value":17.2},{"idx":280,"type":"x","value":16.2},{"idx":290,"type":"x","value":15.0},{"idx":300,"type":"x","value":14.2},{"idx":310,"type":"x","value":15.5},{"idx":320,"type":"x","value":14.8},{"idx":330,"type":"x","value":16.2},{"idx":340,"type":"x","value":17.0},{"idx":350,"type":"x","value":16.5},{"idx":360,"type":"x","value":17.8},{"idx":370,"type":"x","value":18.5},{"idx":380,"type":"x","value":17.2},{"idx":390,"type":"x","value":17.8},{"idx":400,"type":"x","value":18.0},
{"idx":0,"type":"y","value":0},{"idx":10,"type":"y","value":-1.0},{"idx":20,"type":"y","value":-0.2},{"idx":30,"type":"y","value":-1.5},{"idx":40,"type":"y","value":-2.8},{"idx":50,"type":"y","value":-2.0},{"idx":60,"type":"y","value":-3.5},{"idx":70,"type":"y","value":-4.8},{"idx":80,"type":"y","value":-4.0},{"idx":90,"type":"y","value":-2.8},{"idx":100,"type":"y","value":-4.2},{"idx":110,"type":"y","value":-5.5},{"idx":120,"type":"y","value":-4.5},{"idx":130,"type":"y","value":-3.2},{"idx":140,"type":"y","value":-4.8},{"idx":150,"type":"y","value":-6.0},{"idx":160,"type":"y","value":-4.8},{"idx":170,"type":"y","value":-6.2},{"idx":180,"type":"y","value":-7.5},{"idx":190,"type":"y","value":-6.5},{"idx":200,"type":"y","value":-5.2},{"idx":210,"type":"y","value":-6.8},{"idx":220,"type":"y","value":-8.0},{"idx":230,"type":"y","value":-6.8},{"idx":240,"type":"y","value":-5.5},{"idx":250,"type":"y","value":-7.0},{"idx":260,"type":"y","value":-8.5},{"idx":270,"type":"y","value":-7.2},{"idx":280,"type":"y","value":-8.8},{"idx":290,"type":"y","value":-10.0},{"idx":300,"type":"y","value":-8.8},{"idx":310,"type":"y","value":-10.2},{"idx":320,"type":"y","value":-11.5},{"idx":330,"type":"y","value":-10.2},{"idx":340,"type":"y","value":-12.0},{"idx":350,"type":"y","value":-13.2},{"idx":360,"type":"y","value":-12.0},{"idx":370,"type":"y","value":-10.8},{"idx":380,"type":"y","value":-12.2},{"idx":390,"type":"y","value":-11.5},{"idx":400,"type":"y","value":-11.0},
{"idx":0,"type":"z","value":0},{"idx":10,"type":"z","value":0.5},{"idx":20,"type":"z","value":-0.5},{"idx":30,"type":"z","value":-1.8},{"idx":40,"type":"z","value":-0.8},{"idx":50,"type":"z","value":0.5},{"idx":60,"type":"z","value":-0.8},{"idx":70,"type":"z","value":-2.0},{"idx":80,"type":"z","value":-3.2},{"idx":90,"type":"z","value":-2.2},{"idx":100,"type":"z","value":-3.5},{"idx":110,"type":"z","value":-2.5},{"idx":120,"type":"z","value":-1.2},{"idx":130,"type":"z","value":-2.5},{"idx":140,"type":"z","value":-3.8},{"idx":150,"type":"z","value":-2.8},{"idx":160,"type":"z","value":-1.5},{"idx":170,"type":"z","value":-0.2},{"idx":180,"type":"z","value":-1.5},{"idx":190,"type":"z","value":-2.8},{"idx":200,"type":"z","value":-1.8},{"idx":210,"type":"z","value":-3.0},{"idx":220,"type":"z","value":-4.2},{"idx":230,"type":"z","value":-3.2},{"idx":240,"type":"z","value":-2.0},{"idx":250,"type":"z","value":-3.5},{"idx":260,"type":"z","value":-2.2},{"idx":270,"type":"z","value":-3.8},{"idx":280,"type":"z","value":-5.0},{"idx":290,"type":"z","value":-4.0},{"idx":300,"type":"z","value":-5.5},{"idx":310,"type":"z","value":-6.8},{"idx":320,"type":"z","value":-5.5},{"idx":330,"type":"z","value":-7.0},{"idx":340,"type":"z","value":-8.2},{"idx":350,"type":"z","value":-7.0},{"idx":360,"type":"z","value":-8.5},{"idx":370,"type":"z","value":-9.8},{"idx":380,"type":"z","value":-8.5},{"idx":390,"type":"z","value":-9.2},{"idx":400,"type":"z","value":-8.6}
]},
"mark":{"type":"line","strokeWidth":1},
"encoding":{
"x":{"field":"idx","type":"quantitative","title":"idx","scale":{"domain":[-19,420],"nice":false,"zero":false},"axis":{"values":[0,100,200,300,400]}},
"y":{"field":"value","type":"quantitative","title":"value","scale":{"domain":[-36.6,24.5],"nice":false,"zero":false},"axis":{"values":[-20,0,20]}},
"color":{"field":"type","type":"nominal","title":"type","scale":{"domain":["a","b","c","d","e","f","g","h","i","j","k","l","m","n","o","p","q","r","s","t","u","v","w","x","y","z"],"range":["#F8766D","#EC823C","#DE8C00","#CC9600","#B89F00","#A2A600","#88AC00","#67B200","#2FB600","#00BA4C","#00BD6E","#00C08C","#00C1A8","#00BFC3","#00BCD9","#00B6EB","#00ACFC","#4DA0FF","#8B93FF","#B385FF","#D276FC","#E86AF0","#F862DF","#FF61C9","#FF64AF","#FC6C92"]}}
}}
]
}
